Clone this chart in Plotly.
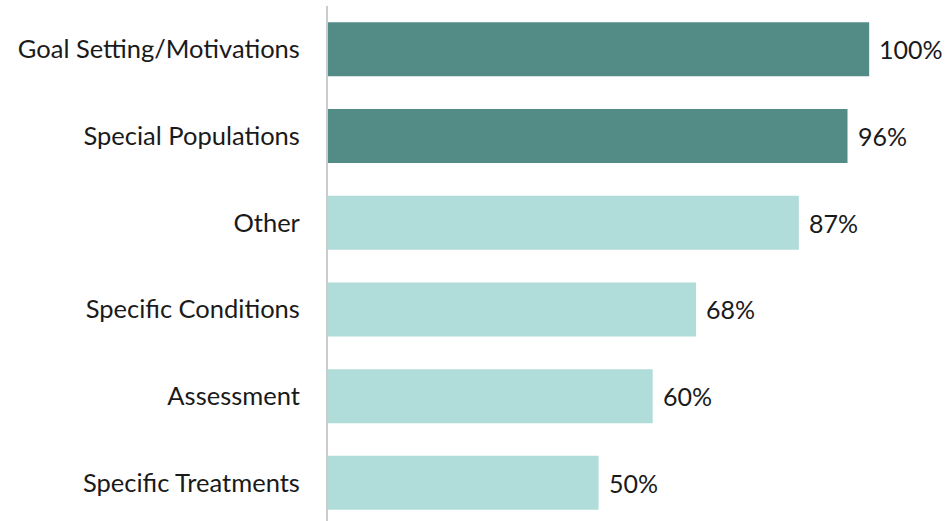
import plotly.graph_objects as go

# Share of respondents by topic area
categories = [
    "Goal Setting/Motivations",
    "Special Populations",
    "Other",
    "Specific Conditions",
    "Assessment",
    "Specific Treatments",
]
values = [100, 96, 87, 68, 60, 50]
highlight = [True, True, False, False, False, False]

DARK = "#538b87"
LIGHT = "#b0dcd9"
FONT = "Lato, 'Open Sans', sans-serif"

colors = [DARK if h else LIGHT for h in highlight]

fig = go.Figure(
    go.Bar(
        x=values,
        y=categories,
        orientation="h",
        marker=dict(color=colors, line=dict(width=0)),
        hoverinfo="skip",
    )
)

# value labels to the right of each bar
for cat, val in zip(categories, values):
    fig.add_annotation(
        x=val, y=cat, text=f"{val}%", showarrow=False,
        xanchor="left", yanchor="middle", xshift=8,
        font=dict(family=FONT, size=25, color="#1a1a1a"),
    )

fig.update_layout(
    width=946,
    height=521,
    margin=dict(l=328, r=0, t=6, b=0),
    paper_bgcolor="white",
    plot_bgcolor="white",
    bargap=0.377,
    showlegend=False,
    font=dict(family=FONT, size=25, color="#1a1a1a"),
)
fig.update_xaxes(
    range=[0, 114.2], showgrid=False, zeroline=False,
    showticklabels=False, showline=False, fixedrange=True,
)
fig.update_yaxes(
    categoryorder="array", categoryarray=categories,
    range=[5.44, -0.5], showgrid=False, zeroline=False,
    showline=True, linecolor="#cccccc", linewidth=2,
    ticks="", ticklabelstandoff=21,
    tickfont=dict(family=FONT, size=25.5, color="#1a1a1a"),
)

fig.write_html("out.html")
